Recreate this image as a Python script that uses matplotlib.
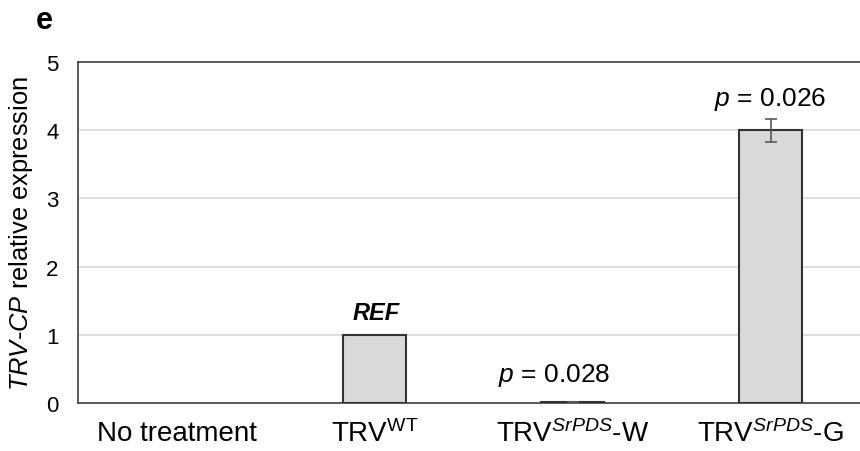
import matplotlib.pyplot as plt

plt.rcParams['font.family'] = ['Liberation Sans', 'DejaVu Sans']
plt.rcParams['mathtext.fontset'] = 'custom'
plt.rcParams['mathtext.rm'] = 'Liberation Sans'
plt.rcParams['mathtext.it'] = 'Liberation Sans:italic'
plt.rcParams['mathtext.bf'] = 'Liberation Sans:bold'

# data
categories = ['No treatment', r'TRV$^{\mathrm{WT}}$',
              r'TRV$^{\mathit{SrPDS}}$-W', r'TRV$^{\mathit{SrPDS}}$-G']
values = [0.0, 1.0, 0.012, 4.0]
errors = [0.0, 0.0, 0.004, 0.17]
annotations = ['', 'REF', r'$\it{p}$ = 0.028', r'$\it{p}$ = 0.026']

fig = plt.figure(figsize=(8.6, 4.52), dpi=100)
ax = fig.add_axes([0.0907, 0.1062, 0.9203, 0.7544])

x = list(range(len(categories)))
edges = ['#333333' if v > 0 else 'none' for v in values]
ax.bar(x, values, width=0.32, color='#d9d9d9', edgecolor=edges, linewidth=1.5, zorder=3)
ax.errorbar([x[2], x[3]], [values[2], values[3]], yerr=[errors[2], errors[3]],
            fmt='none', ecolor='#595959', elinewidth=1.2, capsize=4.6, capthick=1.2, zorder=4)

ax.set_xlim(-0.5, 3.5)
ax.set_ylim(0, 5)
ax.set_yticks([0, 1, 2, 3, 4, 5])
ax.yaxis.grid(True, color='#d9d9d9', linewidth=1.2, zorder=0)
ax.set_axisbelow(True)
for s in ['left', 'bottom', 'top']:
    ax.spines[s].set_color('#404040')
    ax.spines[s].set_linewidth(1.2)
ax.spines['right'].set_visible(False)
ax.tick_params(axis='both', length=0)
ax.tick_params(axis='y', labelsize=16, pad=14)
ax.tick_params(axis='x', labelsize=20, pad=12)
ax.set_xticks(x)
ax.set_xticklabels(categories)
ax.set_ylabel(r'$\it{TRV}$-$\it{CP}$ relative expression', fontsize=18.4)
ax.yaxis.set_label_coords(-0.0545, 0.5)

# annotations above bars
ax.annotate('REF', (x[1], values[1]), xytext=(1, 8), textcoords='offset points',
            ha='center', va='bottom', fontsize=17, fontweight='bold', fontstyle='italic')
ax.annotate(annotations[2], (x[2], values[2] + errors[2]), xytext=(-13, 10),
            textcoords='offset points', ha='center', va='bottom', fontsize=19)
ax.annotate(annotations[3], (x[3], values[3] + errors[3]), xytext=(0, 5),
            textcoords='offset points', ha='center', va='bottom', fontsize=19)

fig.text(0.041, 0.935, 'e', fontsize=22, fontweight='bold')

fig.savefig('out.png', dpi=100)
